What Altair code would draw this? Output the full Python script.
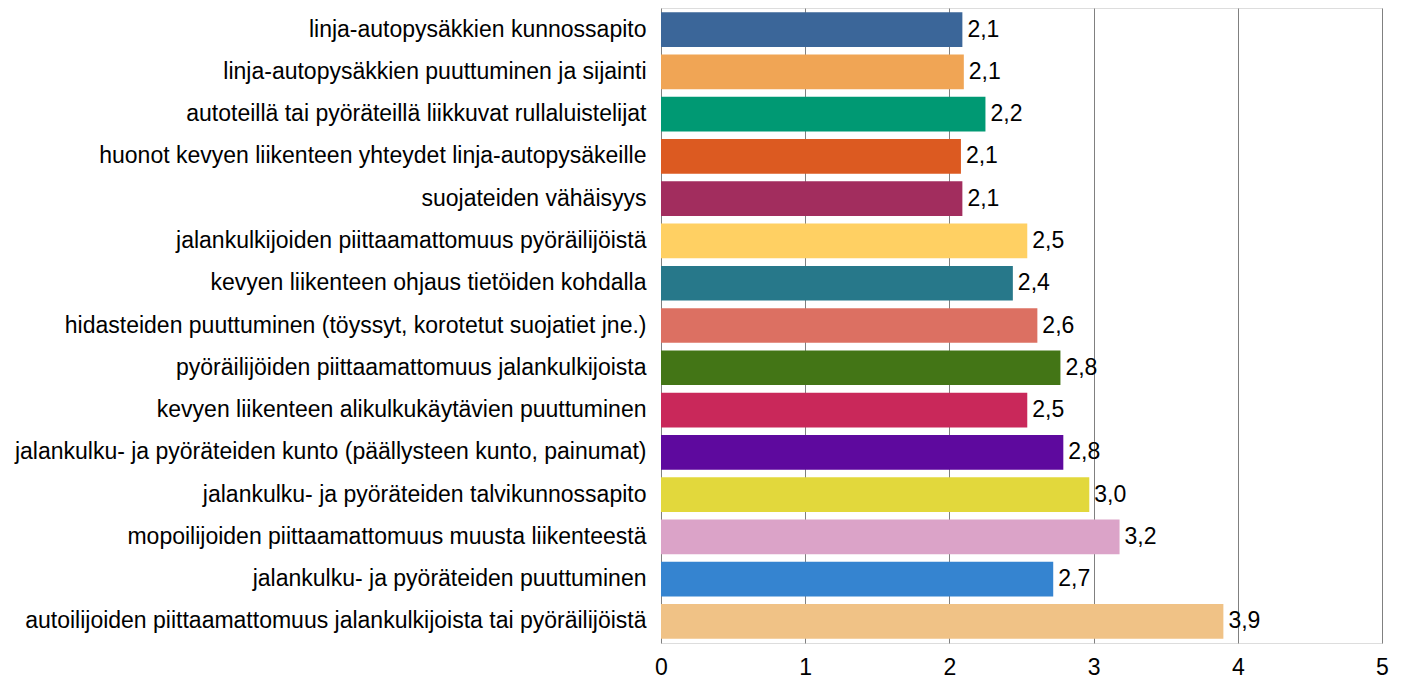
import altair as alt
import pandas as pd

categories = [
    "linja-autopysäkkien kunnossapito",
    "linja-autopysäkkien puuttuminen ja sijainti",
    "autoteillä tai pyöräteillä liikkuvat rullaluistelijat",
    "huonot kevyen liikenteen yhteydet linja-autopysäkeille",
    "suojateiden vähäisyys",
    "jalankulkijoiden piittaamattomuus pyöräilijöistä",
    "kevyen liikenteen ohjaus tietöiden kohdalla",
    "hidasteiden puuttuminen (töyssyt, korotetut suojatiet jne.)",
    "pyöräilijöiden piittaamattomuus jalankulkijoista",
    "kevyen liikenteen alikulkukäytävien puuttuminen",
    "jalankulku- ja pyöräteiden kunto (päällysteen kunto, painumat)",
    "jalankulku- ja pyöräteiden talvikunnossapito",
    "mopoilijoiden piittaamattomuus muusta liikenteestä",
    "jalankulku- ja pyöräteiden puuttuminen",
    "autoilijoiden piittaamattomuus jalankulkijoista tai pyöräilijöistä",
]
values = [2.09, 2.10, 2.25, 2.08, 2.09, 2.54, 2.44, 2.61, 2.77, 2.54, 2.79, 2.97, 3.18, 2.72, 3.90]
colors = [
    "#3B6699", "#F0A555", "#009973", "#DC5A21", "#A22D5E",
    "#FFD063", "#27788A", "#DC7062", "#437516", "#C9285A",
    "#5E099E", "#E2D83C", "#DBA3C8", "#3584D0", "#F0C286",
]

df = pd.DataFrame({"cat": categories, "val": values, "col": colors})
df["lbl"] = [f"{v:.1f}".replace(".", ",") for v in values]

FONT = "Liberation Sans"
FS = 23

y_enc = alt.Y("cat:N", sort=categories, title=None,
              scale=alt.Scale(paddingInner=0.18, paddingOuter=0.1),
              axis=alt.Axis(ticks=False, domain=False, labelPadding=15,
                            labelFontSize=FS, labelFont=FONT, labelColor="#000",
                            labelLimit=900))
x_enc = alt.X("val:Q", title=None,
              scale=alt.Scale(domain=[0, 5], nice=False),
              axis=alt.Axis(values=[0, 1, 2, 3, 4, 5], ticks=False, domain=False,
                            grid=True, gridColor="#808080", gridWidth=1,
                            labelPadding=13, labelFontSize=FS, labelFont=FONT,
                            labelColor="#000", format="d", labelFlush=False))

bars = alt.Chart(df).mark_bar().encode(
    y=y_enc, x=x_enc,
    color=alt.Color("col:N", scale=None),
)
text = alt.Chart(df).mark_text(align="left", baseline="middle", dx=5,
                               fontSize=FS, font=FONT, color="#000").encode(
    y=alt.Y("cat:N", sort=categories),
    x=alt.X("val:Q"),
    text="lbl:N",
)

chart = alt.layer(bars, text).properties(
    width=721, height=635,
    autosize=alt.AutoSizeParams(type="none"),
    padding={"left": 653, "top": 0, "right": 11, "bottom": 45},
).configure_view(stroke="#000", strokeWidth=2).configure(background="white")

chart.save("out.html", embed_options={"renderer": "svg", "actions": False})
